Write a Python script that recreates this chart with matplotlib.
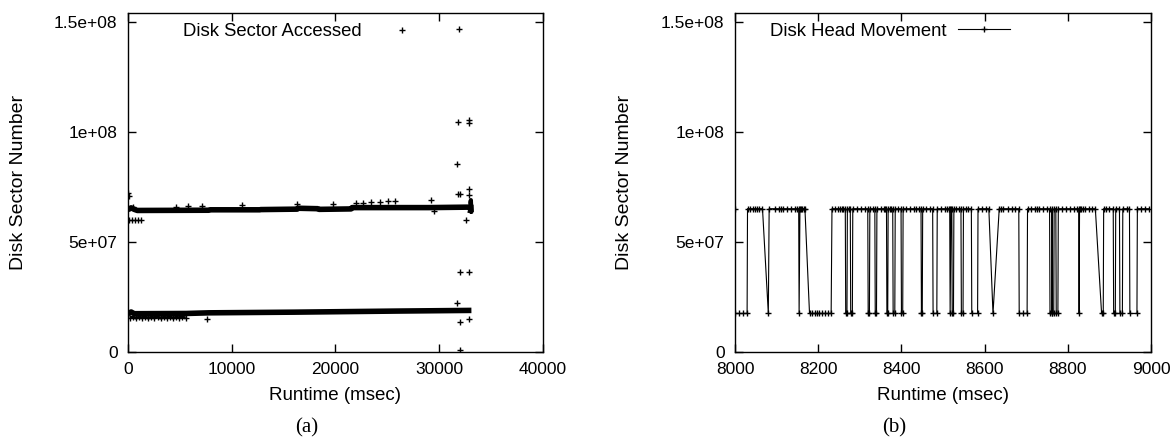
import matplotlib
matplotlib.use('Agg')
import matplotlib.pyplot as plt

plt.rcParams['font.family'] = ['Liberation Sans', 'DejaVu Sans']
plt.rcParams['font.size'] = 13

# ---- (a) disk sector accessed (values in millions of sectors) ----
upper_t = [0, 300, 600, 900, 7800, 7900, 12700, 12800, 16300, 16400, 18300, 18400,
           21500, 21600, 29000, 32700, 33100]
upper_v = [64.6, 65.5, 64.8, 64.3, 64.4, 64.6, 64.6, 64.7, 64.9, 65.3, 65.1, 64.8,
           65.0, 65.6, 65.6, 65.8, 65.6]

lower_t = [0, 300, 600, 5600, 7800, 16000, 26000, 33100]
lower_v = [17.3, 18.2, 17.4, 17.5, 17.8, 18.1, 18.6, 18.9]

strip_t = [150, 450, 750, 1050, 1350, 1650, 1950, 2250, 2550, 2850, 3150, 3450,
           3750, 4050, 4350, 4650, 4950, 5250, 5550]
strip_v = [15.6, 15.8, 15.5, 15.7, 15.6, 15.8, 15.5, 15.7, 15.6, 15.8, 15.5, 15.7,
           15.6, 15.8, 15.5, 15.7, 15.6, 15.8, 15.5]

burst_t = [32950, 33000, 33000, 33000, 33050, 33100, 33100]
burst_v = [64.0, 65.0, 66.5, 68.0, 69.0, 63.6, 66.0]

out_t = [36, 80, 73, 400, 700, 1000, 1273, 500,
         4618, 5818, 7164, 10982, 16255, 19782, 21964, 22690, 23418, 24327, 25091,
         25709, 29164, 29527, 7636,
         31927, 31818, 32909, 32909, 31745, 31960, 31850, 32909, 32909, 32545,
         31960, 32909, 31709, 31960, 32909, 31960]
out_v = [72.3, 71.0, 60.1, 60.1, 60.1, 60.1, 60.1, 65.9,
         65.9, 66.2, 66.5, 66.7, 67.1, 67.1, 67.7, 67.9, 68.2, 68.3, 68.5,
         68.8, 69.1, 64.0, 15.2,
         146.6, 104.3, 105.5, 104.0, 85.4, 71.7, 71.7, 74.1, 71.5, 59.8,
         36.5, 36.2, 22.1, 13.7, 15.2, 0.8]

# ---- (b) disk head movement: runs of samples at the high / low sector ----
head_hi = 65.1
head_lo = 17.5
head_runs = [
    ('H', [8000]),
    ('L', [8001, 8010, 8020, 8029]),
    ('H', [8030, 8037, 8043, 8048, 8053, 8058, 8066]),
    ('L', [8080]),
    ('H', [8082, 8095, 8105, 8110, 8115, 8125, 8135, 8145, 8150, 8153]),
    ('L', [8154]),
    ('H', [8156, 8159, 8162, 8165, 8168]),
    ('L', [8179, 8185, 8191, 8197, 8203, 8210, 8217, 8224, 8231]),
    ('H', [8233, 8240, 8247, 8252, 8256, 8260, 8265]),
    ('L', [8266, 8269]),
    ('H', [8270, 8274, 8277]),
    ('L', [8278, 8282]),
    ('H', [8283, 8292, 8302, 8312, 8319]),
    ('L', [8320, 8323]),
    ('H', [8324, 8331, 8336]),
    ('L', [8337, 8340]),
    ('H', [8341, 8350, 8357, 8361, 8364]),
    ('L', [8365, 8367]),
    ('H', [8368, 8372, 8376, 8379]),
    ('L', [8380, 8384]),
    ('H', [8385, 8392, 8399]),
    ('L', [8400, 8403]),
    ('H', [8404, 8412, 8421, 8429, 8436, 8441, 8447]),
    ('L', [8448, 8450]),
    ('H', [8451, 8460, 8469, 8475]),
    ('L', [8476, 8485]),
    ('H', [8486, 8495, 8505, 8510, 8514, 8516]),
    ('L', [8517]),
    ('H', [8519, 8521]),
    ('L', [8522, 8525]),
    ('H', [8526, 8531, 8538, 8543]),
    ('L', [8544, 8548]),
    ('H', [8549, 8556, 8561, 8568]),
    ('L', [8569, 8583]),
    ('H', [8584, 8593, 8602, 8610]),
    ('L', [8620]),
    ('H', [8635, 8640, 8645, 8655, 8665, 8674, 8682]),
    ('L', [8683, 8693, 8702]),
    ('H', [8703, 8711, 8720, 8725, 8730, 8740, 8750, 8756]),
    ('L', [8757, 8761]),
    ('H', [8762]),
    ('L', [8763, 8766]),
    ('H', [8767, 8771]),
    ('L', [8772, 8776]),
    ('H', [8777, 8786, 8796, 8805, 8815, 8822, 8826]),
    ('L', [8827]),
    ('H', [8828, 8831, 8836, 8841, 8850, 8858, 8866]),
    ('L', [8881, 8885]),
    ('H', [8886, 8891, 8900, 8909]),
    ('L', [8910, 8914]),
    ('H', [8915, 8924]),
    ('L', [8925, 8931]),
    ('H', [8932, 8941, 8948]),
    ('L', [8949, 8966]),
    ('H', [8967, 8976, 8985, 8994]),
]

head_t = []
head_v = []
for level, times in head_runs:
    for t in times:
        head_t.append(t)
        head_v.append(head_hi if level == 'H' else head_lo)

y_ticks = [0, 5e7, 1e8, 1.5e8]
y_labels = ['0', '5e+07', '1e+08', '1.5e+08']


def mil(vals):
    return [v * 1e6 for v in vals]


def style_axes(ax):
    ax.set_ylim(0, 1.54e8)
    ax.set_yticks(y_ticks)
    ax.set_yticklabels(y_labels)
    ax.tick_params(direction='in', top=True, right=True, length=6, width=1,
                   labelsize=12.5)
    ax.tick_params(axis='x', pad=7.5)
    ax.tick_params(axis='y', pad=7.5)
    for s in ax.spines.values():
        s.set_linewidth(1.0)
    ax.set_xlabel('Runtime (msec)', fontsize=13.5)
    ax.set_ylabel('Disk Sector Number', fontsize=14)
    ax.xaxis.set_label_coords(0.5, -0.127)
    ax.xaxis.label.set_va('center')
    ax.yaxis.set_label_coords(-0.265, 0.5)
    ax.yaxis.label.set_va('center')


fig = plt.figure(figsize=(11.71, 4.42), dpi=100)
ax1 = fig.add_axes([0.1093, 0.2036, 0.3544, 0.767])
ax2 = fig.add_axes([0.6277, 0.2036, 0.3553, 0.767])

mk = dict(marker='+', markersize=5, markeredgewidth=1.0)

ax1.plot(upper_t, mil(upper_v), '-', color='black', lw=4.0, solid_capstyle='butt')
ax1.plot(lower_t, mil(lower_v), '-', color='black', lw=4.0, solid_capstyle='butt')
ax1.plot(strip_t, mil(strip_v), '-', color='black', lw=2.2, solid_capstyle='butt')
ax1.plot(strip_t, mil(strip_v), linestyle='none', color='black', **mk)
ax1.plot(burst_t, mil(burst_v), '-', color='black', lw=3.0)
ax1.plot(out_t, mil(out_v), linestyle='none', color='black',
         label='Disk Sector Accessed', **mk)
ax1.set_xlim(0, 40000)
ax1.set_xticks([0, 10000, 20000, 30000, 40000])
style_axes(ax1)
ax1.legend(loc='center left', bbox_to_anchor=(0.133, 0.944), frameon=False,
           markerfirst=False, borderpad=0, borderaxespad=0, handlelength=2.7,
           handletextpad=0.8, fontsize=13.3)

ax2.plot(head_t, mil(head_v), '-', color='black', lw=0.8,
         label='Disk Head Movement', **mk)
ax2.set_xlim(8000, 9000)
ax2.set_xticks([8000, 8200, 8400, 8600, 8800, 9000])
style_axes(ax2)
ax2.legend(loc='center left', bbox_to_anchor=(0.084, 0.946), frameon=False,
           markerfirst=False, borderpad=0, borderaxespad=0, handlelength=2.86,
           handletextpad=0.6, fontsize=13.3)

fig.text(0.262, 0.032, '(a)', ha='center', va='center',
         family=['Liberation Serif', 'DejaVu Serif'], fontsize=15)
fig.text(0.764, 0.032, '(b)', ha='center', va='center',
         family=['Liberation Serif', 'DejaVu Serif'], fontsize=15)

fig.savefig('out.png', dpi=100)
